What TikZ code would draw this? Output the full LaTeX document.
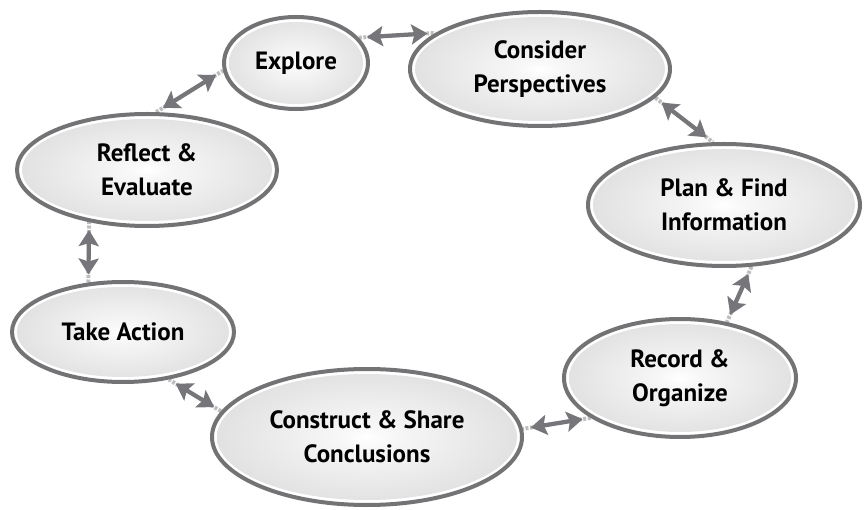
\documentclass[tikz,border=0pt]{standalone}
\usepackage{fontspec}
\setmainfont{PT Sans}
\usetikzlibrary{shapes.geometric,arrows.meta,backgrounds,calc}
\definecolor{ringgray}{RGB}{115,115,118}
\definecolor{arrgray}{RGB}{118,118,122}
\definecolor{dotgray}{RGB}{190,190,190}
\pgfdeclareradialshading{ellshade}{\pgfpoint{0bp}{0bp}}{%
  color(0bp)=(white); color(4bp)=(white!97!black); color(30bp)=(black!14); color(50bp)=(black!24)}
\tikzset{
  bub/.style={ellipse, draw=ringgray, line width=4pt, fill=white, inner sep=0pt,
    align=center, font=\bfseries\fontsize{25}{34}\selectfont, text=black,
    path picture={\shade[shading=ellshade] let \p1=($(path picture bounding box.north east)-(path picture bounding box.center)$) in
      (path picture bounding box.center) ellipse [x radius=\x1-5pt, y radius=\y1-5pt];}},
  dotc/.style={draw=dotgray, line width=4pt, dash pattern=on 3pt off 1.5pt},
  arr/.style={draw=arrgray, line width=4.2pt, shorten <=8pt, shorten >=8pt,
    {Stealth[length=16pt,width=20pt,inset=3pt]}-{Stealth[length=16pt,width=20pt,inset=3pt]}}
}
\begin{document}
\begin{tikzpicture}[x=1pt,y=1pt]
\useasboundingbox (0,0) rectangle (867,509);
\node[bub, minimum width=144pt, minimum height=92pt] (explore) at (296,446) {Explore};
\node[bub, minimum width=260pt, minimum height=114pt] (consider) at (540,440) {Consider\\Perspectives};
\node[bub, minimum width=260pt, minimum height=112pt] (reflect) at (147,339) {Reflect \&\\Evaluate};
\node[bub, minimum width=272pt, minimum height=122pt] (plan) at (724,304) {Plan \& Find\\Information};
\node[bub, minimum width=222pt, minimum height=100pt] (take) at (123,177) {Take Action};
\node[bub, minimum width=232pt, minimum height=118pt] (record) at (680,131) {Record \&\\Organize};
\node[bub, minimum width=310pt, minimum height=136pt] (construct) at (367,72) {Construct \& Share\\Conclusions};
\begin{scope}[on background layer]
\foreach \a/\b in {reflect.81/explore.186, explore.22/consider.161, consider.-14/plan.100,
  plan.-66/record.50, record.204/construct.3, construct.170/take.-46, take.125/reflect.222}{
  \path[dotc] (\a) -- (\b);
  \path[arr] (\a) -- (\b);
}
\end{scope}
\end{tikzpicture}
\end{document}
